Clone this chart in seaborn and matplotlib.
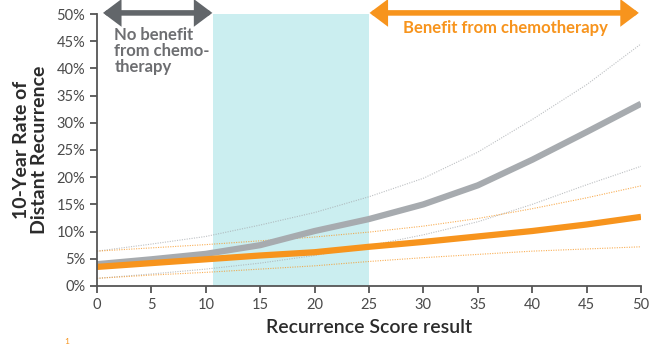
import numpy as np
import pandas as pd
import matplotlib
matplotlib.use('Agg')
import matplotlib.pyplot as plt
import seaborn as sns

### data ######################################################
scores = [0, 5, 10, 15, 20, 25, 30, 35, 40, 45, 50]
grey_mid = [4.0, 4.9, 5.9, 7.5, 10.1, 12.3, 15.0, 18.5, 23.2, 28.3, 33.5]
grey_hi = [6.4, 7.7, 9.1, 11.2, 13.5, 16.4, 19.8, 24.6, 30.6, 37.0, 44.5]
grey_lo = [1.4, 2.2, 3.1, 4.2, 5.6, 7.4, 9.4, 11.8, 15.0, 18.6, 22.0]
orange_mid = [3.5, 4.2, 4.9, 5.6, 6.2, 7.2, 8.1, 9.1, 10.1, 11.3, 12.7]
orange_hi = [6.4, 7.0, 7.6, 8.3, 9.0, 9.9, 11.0, 12.4, 14.2, 16.2, 18.4]
orange_lo = [1.4, 2.0, 2.5, 3.1, 3.7, 4.5, 5.2, 5.8, 6.4, 6.8, 7.2]

x_ticks = [0, 5, 10, 15, 20, 25, 30, 35, 40, 45, 50]
y_ticks = [0, 5, 10, 15, 20, 25, 30, 35, 40, 45, 50]
zone_no_benefit = (0.55, 10.6)
zone_grey = (10.7, 25)
zone_benefit = (25.05, 49.8)

GREY = '#a7abaf'
DARK = '#62666a'
ORANGE = '#f7941d'
TEAL = '#cbeef0'

sns.set_style('white')
plt.rcParams['font.family'] = ['Lato', 'DejaVu Sans']

df = pd.DataFrame({'score': scores, 'grey_mid': grey_mid, 'grey_hi': grey_hi, 'grey_lo': grey_lo,
                   'orange_mid': orange_mid, 'orange_hi': orange_hi, 'orange_lo': orange_lo})

fig = plt.figure(figsize=(6.65, 3.5), dpi=100)
ax = fig.add_axes([0.1459, 0.183, 0.818, 0.777])

ax.axvspan(*zone_grey, color=TEAL, lw=0, zorder=0)

# confidence bands (dotted)
for col, c in [('grey_hi', GREY), ('grey_lo', GREY), ('orange_hi', ORANGE), ('orange_lo', ORANGE)]:
    sns.lineplot(data=df, x='score', y=col, ax=ax, color=c, lw=0.8, ls=(0, (1, 1.2)), alpha=0.75)
# main curves
sns.lineplot(data=df, x='score', y='grey_mid', ax=ax, color=GREY, lw=4.5, solid_capstyle='butt')
sns.lineplot(data=df, x='score', y='orange_mid', ax=ax, color=ORANGE, lw=4.5, solid_capstyle='butt')

ax.set_xlim(0, 50)
ax.set_ylim(0, 50)
ax.set_xticks(x_ticks)
ax.set_yticks(y_ticks)
ax.set_yticklabels(['%d%%' % v for v in y_ticks])
ax.tick_params(axis='both', direction='out', length=5, width=1.3, color='#555555',
               labelsize=10.5, labelcolor='#4a4a4a', left=True, bottom=True)
for s in ['top', 'right']:
    ax.spines[s].set_visible(False)
for s in ['left', 'bottom']:
    ax.spines[s].set_color('#555555')
    ax.spines[s].set_linewidth(1.3)

ax.set_xlabel('Recurrence Score result', fontsize=14, fontweight='semibold', color='#2b2b2b', labelpad=5)
ax.set_ylabel('10-Year Rate of\nDistant Recurrence', fontsize=14, fontweight='bold', color='#2b2b2b',
              labelpad=6, linespacing=1.05)

# arrows
arr = dict(arrowstyle='<|-|>,head_length=0.4,head_width=0.3', mutation_scale=20, lw=4,
           shrinkA=0, shrinkB=0, joinstyle='miter')
ax.annotate('', xy=(zone_no_benefit[1], 50.2), xytext=(zone_no_benefit[0], 50.2),
            arrowprops=dict(color=DARK, **arr), annotation_clip=False)
ax.annotate('', xy=(zone_benefit[1], 50.2), xytext=(zone_benefit[0], 50.2),
            arrowprops=dict(color=ORANGE, **arr), annotation_clip=False)

ax.text(1.6, 47.7, 'No benefit\nfrom chemo-\ntherapy', fontsize=12, fontweight='bold', color='#6d6e71',
        ha='left', va='top', linespacing=1.0)
ax.text(37.5, 47.4, 'Benefit from chemotherapy', fontsize=12, fontweight='bold', color=ORANGE,
        ha='center', va='center')

fig.text(64 / 665, 1 - 345 / 350, '1', fontsize=6, color=ORANGE, ha='left', va='bottom')

fig.savefig('out.png', dpi=100)
